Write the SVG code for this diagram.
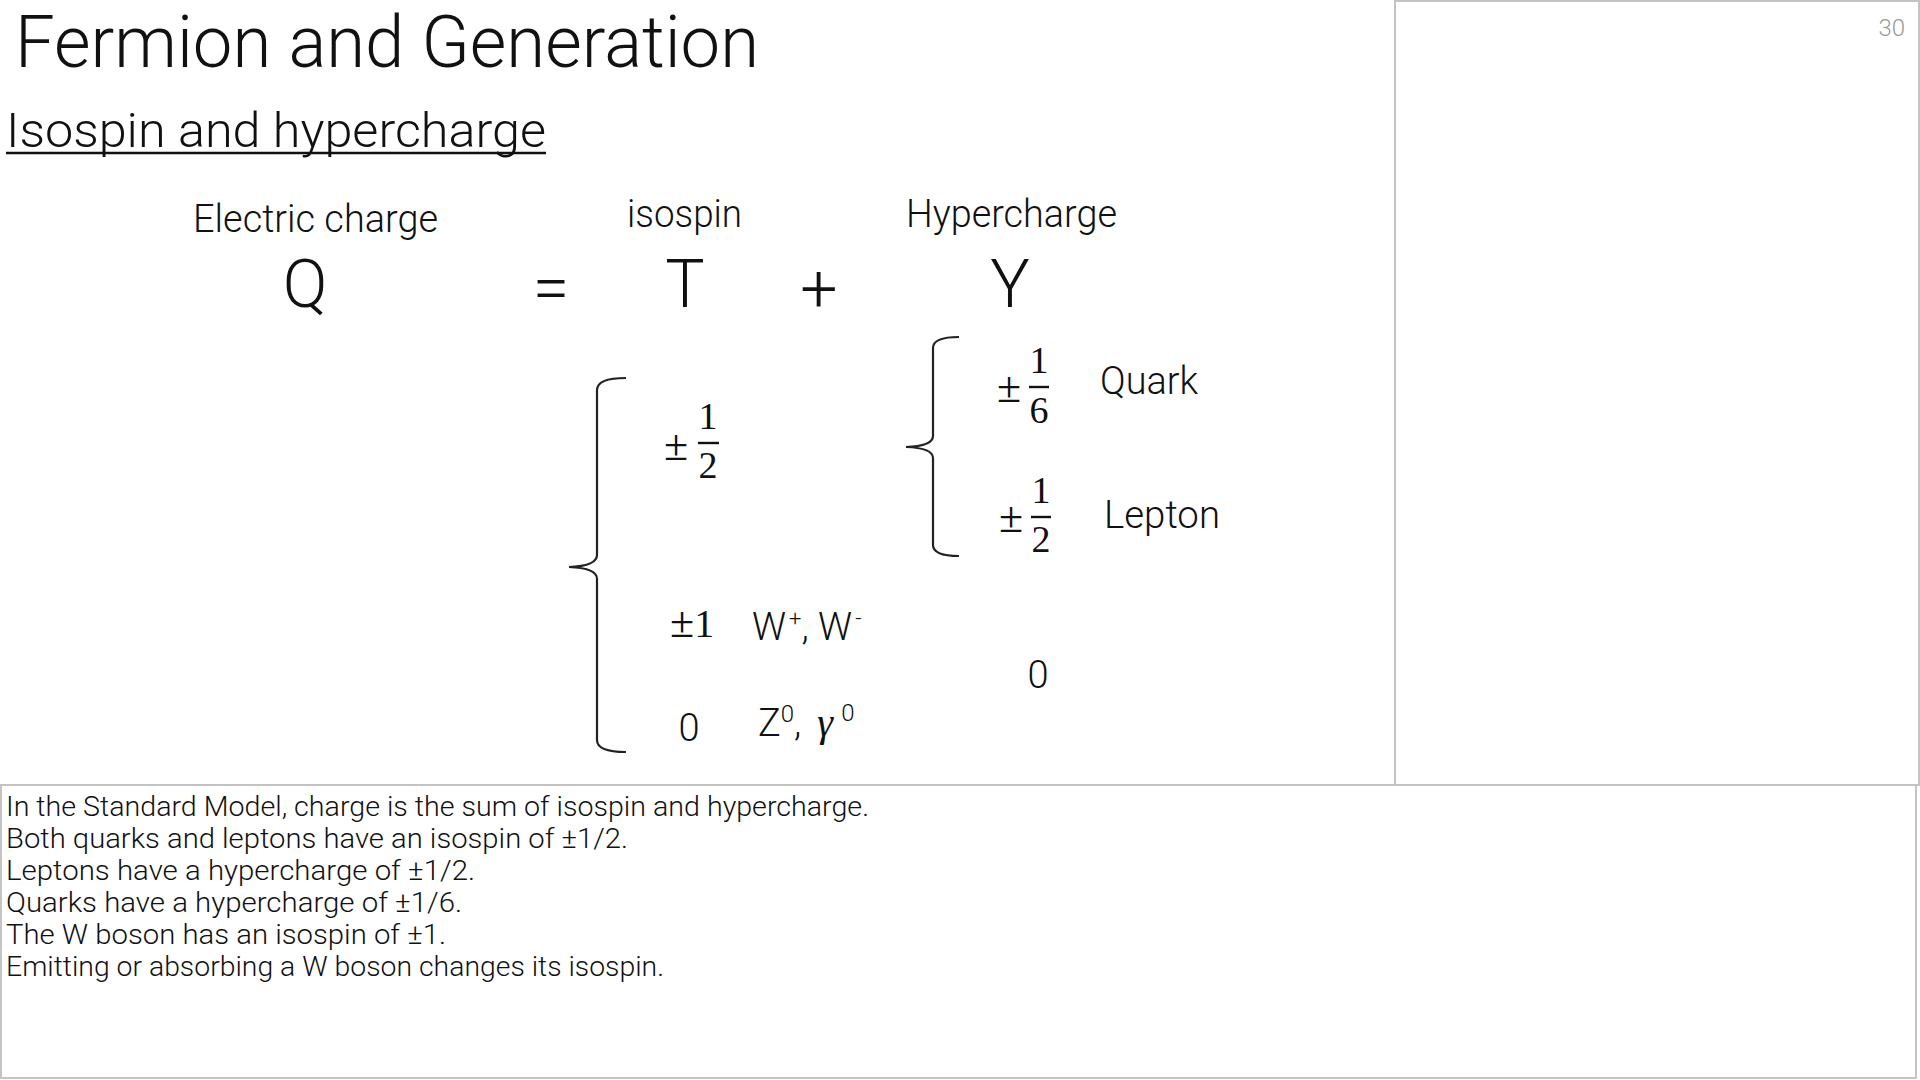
<svg xmlns="http://www.w3.org/2000/svg" width="1920" height="1080" viewBox="0 0 1920 1080">
<style>
.sans{font-family:Roboto,"Liberation Sans","Noto Sans CJK JP",sans-serif;font-weight:300;fill:#111}
.math{font-family:"Liberation Serif","DejaVu Serif",serif;fill:#111}
.frame{fill:none;stroke:#c4c4c4;stroke-width:2}
.brace{fill:none;stroke:#222;stroke-width:2.2}
</style>
<rect width="1920" height="1080" fill="#ffffff"/>
<g id="panels">
<rect class="frame" x="1395" y="1" width="524" height="784"/>
<rect class="frame" x="1" y="785" width="1915" height="293"/>
</g>
<g id="page-number"><text class="sans" x="1905" y="36" font-size="24" text-anchor="end" style="fill:#9a9a9a">30</text></g>
<g id="title"><text class="sans" x="15" y="67" font-size="73" textLength="744" lengthAdjust="spacingAndGlyphs">Fermion and Generation</text></g>
<g id="subtitle"><text class="sans" x="6" y="147" font-size="48" textLength="540" lengthAdjust="spacingAndGlyphs">Isospin and hypercharge</text>
<line x1="6" y1="153" x2="546" y2="153" stroke="#111" stroke-width="2.5"/></g>
<g id="equation">
<text class="sans" x="193" y="232" font-size="38" textLength="245" lengthAdjust="spacingAndGlyphs">Electric charge</text>
<text class="sans" x="627" y="227" font-size="38" textLength="115" lengthAdjust="spacingAndGlyphs">isospin</text>
<text class="sans" x="906" y="227" font-size="38" textLength="211" lengthAdjust="spacingAndGlyphs">Hypercharge</text>
<text class="sans" x="305" y="307" font-size="66" text-anchor="middle">Q</text>
<text class="sans" x="551" y="311" font-size="66" text-anchor="middle">=</text>
<text class="sans" x="685" y="307" font-size="66" text-anchor="middle">T</text>
<text class="sans" x="819" y="312" font-size="66" text-anchor="middle">+</text>
<text class="sans" x="1010" y="307" font-size="66" text-anchor="middle">Y</text>
</g>
<g id="connectors">
<path class="brace" d="M626,378 Q597,378 597,390 L597,555 Q597,566 569,567 Q597,568 597,579 L597,740 Q597,752 626,752"/>
<path class="brace" d="M959,337 Q933,337 933,348 L933,436 Q933,446 906,447 Q933,448 933,458 L933,545 Q933,556 959,556"/>
</g>
<g id="isospin-half">
<text class="math" x="664" y="460" font-size="44">±</text>
<text class="math" x="708" y="429" font-size="38" text-anchor="middle">1</text>
<line x1="698" y1="443" x2="719" y2="443" stroke="#111" stroke-width="2.4"/>
<text class="math" x="708" y="478" font-size="38" text-anchor="middle">2</text>
</g>
<g id="quark">
<text class="math" x="997" y="402" font-size="44">±</text>
<text class="math" x="1039" y="373" font-size="38" text-anchor="middle">1</text>
<line x1="1029" y1="387" x2="1049" y2="387" stroke="#111" stroke-width="2.4"/>
<text class="math" x="1039" y="423" font-size="38" text-anchor="middle">6</text>
<text class="sans" x="1100" y="394" font-size="38" textLength="98" lengthAdjust="spacingAndGlyphs">Quark</text>
</g>
<g id="lepton">
<text class="math" x="999" y="532" font-size="44">±</text>
<text class="math" x="1041" y="503" font-size="38" text-anchor="middle">1</text>
<line x1="1031" y1="517" x2="1051" y2="517" stroke="#111" stroke-width="2.4"/>
<text class="math" x="1041" y="552" font-size="38" text-anchor="middle">2</text>
<text class="sans" x="1104" y="528" font-size="38" textLength="116" lengthAdjust="spacingAndGlyphs">Lepton</text>
</g>
<g id="w-boson">
<text class="math" x="670" y="637" font-size="40"><tspan font-size="44">±</tspan>1</text>
<text class="sans" x="752" y="640" font-size="38">W<tspan font-size="22" dy="-14" dx="3">+</tspan><tspan dy="14">, W</tspan><tspan font-size="22" dy="-14" dx="3">-</tspan></text>
</g>
<g id="hyper-zero"><text class="sans" x="1038" y="688" font-size="38" text-anchor="middle">0</text></g>
<g id="z-gamma">
<text class="sans" x="689" y="741" font-size="38" text-anchor="middle">0</text>
<text class="sans" x="758" y="736" font-size="38">Z<tspan font-size="24" dy="-14">0</tspan><tspan dy="14">,</tspan><tspan class="math" font-style="italic" font-size="40" dx="16">γ</tspan><tspan font-size="24" dy="-15" dx="8">0</tspan></text>
</g>
<g id="notes">
<text class="sans" x="6" y="816" font-size="27" textLength="863" lengthAdjust="spacingAndGlyphs">In the Standard Model, charge is the sum of isospin and hypercharge.</text>
<text class="sans" x="6" y="848" font-size="27" textLength="622" lengthAdjust="spacingAndGlyphs">Both quarks and leptons have an isospin of ±1/2.</text>
<text class="sans" x="6" y="880" font-size="27" textLength="469" lengthAdjust="spacingAndGlyphs">Leptons have a hypercharge of ±1/2.</text>
<text class="sans" x="6" y="912" font-size="27" textLength="456" lengthAdjust="spacingAndGlyphs">Quarks have a hypercharge of ±1/6.</text>
<text class="sans" x="6" y="944" font-size="27" textLength="440" lengthAdjust="spacingAndGlyphs">The W boson has an isospin of ±1.</text>
<text class="sans" x="6" y="976" font-size="27" textLength="658" lengthAdjust="spacingAndGlyphs">Emitting or absorbing a W boson changes its isospin.</text>
</g>
</svg>
